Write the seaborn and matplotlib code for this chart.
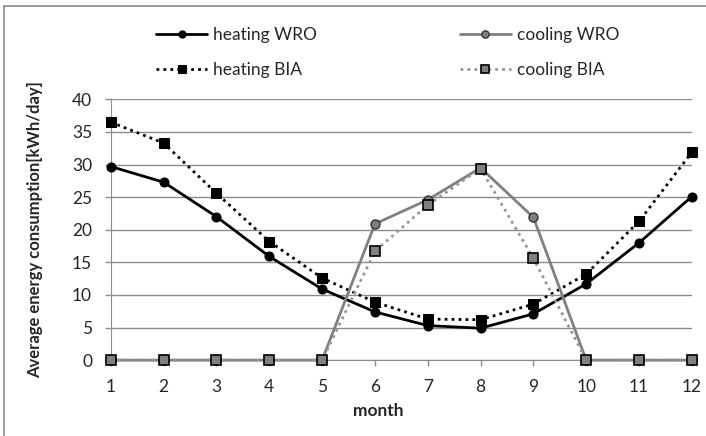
import numpy as np
import pandas as pd
import matplotlib
matplotlib.use("Agg")
import matplotlib.pyplot as plt
import seaborn as sns

# data
months = list(range(1, 13))
heating_wro = [29.7, 27.3, 22.0, 15.9, 10.9, 7.4, 5.3, 4.9, 7.1, 11.7, 18.0, 25.1]
heating_bia = [36.5, 33.3, 25.6, 18.2, 12.6, 8.9, 6.3, 6.2, 8.6, 13.2, 21.3, 31.9]
cooling_wro = [0, 0, 0, 0, 0, 20.9, 24.6, 29.5, 21.9, 0, 0, 0]
cooling_bia = [0, 0, 0, 0, 0, 16.7, 23.8, 29.4, 15.6, 0, 0, 0]
y_ticks = [0, 5, 10, 15, 20, 25, 30, 35, 40]

sns.set_style("white")
plt.rcParams['font.family'] = ['Lato', 'DejaVu Sans']

fig = plt.figure(figsize=(7.06, 4.36), dpi=100)
ax = fig.add_axes([0.157, 0.174, 0.823, 0.598])

# heating WRO
sns.lineplot(x=months, y=heating_wro, ax=ax, color='black', lw=2,
             marker='o', markersize=6.5, markeredgecolor='black',
             label='heating WRO', zorder=3, clip_on=False)
# heating BIA
sns.lineplot(x=months, y=heating_bia, ax=ax, color='black', lw=2,
             linestyle=(0, (1, 1.5)), marker='s', markersize=6.5,
             markeredgecolor='black', label='heating BIA', zorder=3,
             clip_on=False)
# cooling WRO
sns.lineplot(x=months, y=cooling_wro, ax=ax, color='#808080', lw=2,
             marker='o', markersize=6.5, markerfacecolor='#808080',
             markeredgecolor='#333333', markeredgewidth=1,
             label='cooling WRO', zorder=4, clip_on=False)
# cooling BIA
sns.lineplot(x=months, y=cooling_bia, ax=ax, color='#969696', lw=2,
             linestyle=(0, (1, 1.5)), marker='s', markersize=6.5,
             markerfacecolor='#808080', markeredgecolor='black',
             markeredgewidth=1.2, label='cooling BIA', zorder=5,
             clip_on=False)

ax.set_xlim(1, 12)
ax.set_ylim(0, 40)
ax.set_xticks(months)
ax.set_yticks(y_ticks)
ax.tick_params(axis='both', labelsize=12.5, labelcolor='#262626',
               direction='out', length=4.5, width=1, color='#8c8c8c',
               bottom=True, left=True)
ax.tick_params(axis='x', pad=9)
ax.tick_params(axis='y', pad=9)

ax.grid(axis='y', color='#8c8c8c', lw=1)
ax.set_axisbelow(True)
for s in ['top', 'right']:
    ax.spines[s].set_visible(False)
ax.spines['left'].set_color('#8c8c8c')
ax.spines['bottom'].set_color('#8c8c8c')

ax.set_xlabel('month', fontsize=12.5, fontweight='bold')
ax.xaxis.set_label_coords(0.46, -0.165)
ax.set_ylabel('Average energy consumption[kWh/day]', fontsize=12,
              fontweight='bold')
ax.yaxis.set_label_coords(-0.117, 0.5)

h, l = ax.get_legend_handles_labels()
ax.get_legend().remove()
fig.legend(h, l, ncol=2, frameon=False, fontsize=12.5,
           loc='upper left', bbox_to_anchor=(156 / 706, 0.937),
           borderpad=0, borderaxespad=0, markerscale=0.8,
           columnspacing=8.2, handlelength=2.95, handletextpad=0.35,
           labelspacing=1.05)

# thin frame around the chart (left and top edges are in view)
fig.add_artist(plt.Line2D([0.006, 0.006], [0, 0.986], color='#8c8c8c',
                          lw=1.2, transform=fig.transFigure))
fig.add_artist(plt.Line2D([0.006, 1], [0.986, 0.986], color='#8c8c8c',
                          lw=1.2, transform=fig.transFigure))

fig.savefig('out.png', dpi=100)
